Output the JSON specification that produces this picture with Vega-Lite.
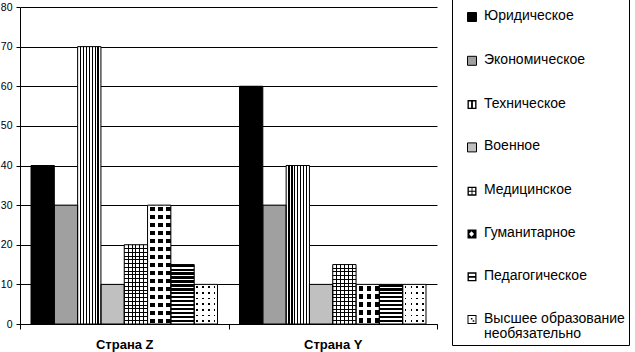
{
"$schema": "https://vega.github.io/schema/vega-lite/v6.json",
"width": 417,
"height": 317,
"autosize": {"type": "none"},
"padding": {"left": 20, "top": 7, "right": 198, "bottom": 28},
"config": {"view": {"stroke": null}, "font": "Liberation Sans"},
"data": {"values": [
{"country": "Страна Z", "cat": "Юридическое", "value": 40},
{"country": "Страна Z", "cat": "Экономическое", "value": 30},
{"country": "Страна Z", "cat": "Техническое", "value": 70},
{"country": "Страна Z", "cat": "Военное", "value": 10},
{"country": "Страна Z", "cat": "Медицинское", "value": 20},
{"country": "Страна Z", "cat": "Гуманитарное", "value": 30},
{"country": "Страна Z", "cat": "Педагогическое", "value": 15},
{"country": "Страна Z", "cat": "Высшее образование необязательно", "value": 10},
{"country": "Страна Y", "cat": "Юридическое", "value": 60},
{"country": "Страна Y", "cat": "Экономическое", "value": 30},
{"country": "Страна Y", "cat": "Техническое", "value": 40},
{"country": "Страна Y", "cat": "Военное", "value": 10},
{"country": "Страна Y", "cat": "Медицинское", "value": 15},
{"country": "Страна Y", "cat": "Гуманитарное", "value": 10},
{"country": "Страна Y", "cat": "Педагогическое", "value": 10},
{"country": "Страна Y", "cat": "Высшее образование необязательно", "value": 10}
]},
"encoding": {
"x": {"field": "country", "type": "nominal", "sort": ["Страна Z", "Страна Y"], "scale": {"paddingInner": 0, "paddingOuter": 0},
 "axis": {"title": null, "labelAngle": 0, "labelFontSize": 13, "labelFontWeight": "bold", "labelColor": "black", "labelFont": "Liberation Sans", "tickSize": 5, "tickColor": "black", "domainColor": "black", "labelPadding": 9, "tickBand": "extent", "grid": false}},
"xOffset": {"field": "cat", "type": "nominal", "sort": ["Юридическое", "Экономическое", "Техническое", "Военное", "Медицинское", "Гуманитарное", "Педагогическое", "Высшее образование необязательно"], "scale": {"paddingInner": 0, "paddingOuter": 0.472}},
"y": {"field": "value", "type": "quantitative", "scale": {"domain": [0, 80], "nice": false},
 "axis": {"title": null, "values": [0, 10, 20, 30, 40, 50, 60, 70, 80], "grid": true, "gridColor": "black", "gridOpacity": 1, "domainColor": "black", "tickColor": "black", "tickSize": 4, "labelPadding": 4, "labelFontSize": 10.5, "labelColor": "black", "labelFont": "Liberation Sans"}}
},
"layer": [
{"mark": {"type": "bar", "strokeWidth": 0},
 "encoding": {"fill": {"field": "cat", "type": "nominal",
  "scale": {"domain": ["Юридическое", "Экономическое", "Техническое", "Военное", "Медицинское", "Гуманитарное", "Педагогическое", "Высшее образование необязательно"], "range": ["black", "#a0a0a0", "black", "#c0c0c0", "black", "black", "black", "black"]},
  "legend": {"orient": "none", "legendX": 432, "legendY": -10, "direction": "vertical",
   "title": " ", "titleFontSize": 9, "titlePadding": 0,
   "strokeColor": "black", "padding": 4,
   "symbolType": "square", "symbolSize": 81, "symbolStrokeColor": "black", "symbolStrokeWidth": 1, "symbolOffset": 9,
   "labelFont": "Liberation Sans", "labelFontSize": 14, "labelColor": "black", "labelOffset": 5, "labelLimit": 300, "labelBaseline": "top",
   "rowPadding": 28.8,
   "labelExpr": "datum.label == 'Высшее образование необязательно' ? ['Высшее образование', 'необязательно'] : datum.label",
   "encode": {
    "symbols": {"update": {
     "shape": {"signal": "datum.value === 'Техническое' ? 'M-1,-1L1,-1L1,1L-1,1Z M-0.7,-0.7L-0.7,0.7L-0.2,0.7L-0.2,-0.7Z M0.2,-0.7L0.2,0.7L0.7,0.7L0.7,-0.7Z' : datum.value === 'Медицинское' ? 'M-1,-1L1,-1L1,1L-1,1Z M-0.7,-0.7L-0.7,-0.1L-0.1,-0.1L-0.1,-0.7Z M0.1,-0.7L0.1,-0.1L0.7,-0.1L0.7,-0.7Z M-0.7,0.1L-0.7,0.7L-0.1,0.7L-0.1,0.1Z M0.1,0.1L0.1,0.7L0.7,0.7L0.7,0.1Z' : datum.value === 'Гуманитарное' ? 'M-1,-1L1,-1L1,1L-1,1Z M-0.65,0L-0.1,0.6L0.45,0L-0.1,-0.6Z' : datum.value === 'Педагогическое' ? 'M-1,-1L1,-1L1,1L-1,1Z M-0.7,-0.7L-0.7,-0.2L0.7,-0.2L0.7,-0.7Z M-0.7,0.2L-0.7,0.7L0.7,0.7L0.7,0.2Z' : datum.value === 'Высшее образование необязательно' ? 'M-1,-1L1,-1L1,1L-1,1Z M-0.78,-0.78L-0.78,0.78L0.78,0.78L0.78,-0.78Z M-0.25,-0.35L0.1,-0.35L0.1,0L-0.25,0Z M0.15,0.15L0.5,0.15L0.5,0.5L0.15,0.5Z' : 'square'"},
     "stroke": {"value": "black"},
     "strokeWidth": {"signal": "indexof(['Техническое','Медицинское','Гуманитарное','Педагогическое','Высшее образование необязательно'], datum.value) >= 0 ? 0 : 1"}
    }},
    "labels": {"update": {"dy": {"value": -8}, "lineHeight": {"value": 15}}}
   }
  }}}},
{"mark": {"type": "bar", "strokeWidth": 0},
 "encoding": {"fill": {"condition": [
  {"test": "datum.cat === 'Техническое'", "value": {"gradient": "linear", "x1": 0, "y1": 0, "x2": 1, "y2": 0, "stops": [
   {"offset": 0, "color": "white"},
   {"offset": 0.099, "color": "white"}, {"offset": 0.099, "color": "black"}, {"offset": 0.151, "color": "black"}, {"offset": 0.151, "color": "white"},
   {"offset": 0.224, "color": "white"}, {"offset": 0.224, "color": "black"}, {"offset": 0.276, "color": "black"}, {"offset": 0.276, "color": "white"},
   {"offset": 0.349, "color": "white"}, {"offset": 0.349, "color": "black"}, {"offset": 0.401, "color": "black"}, {"offset": 0.401, "color": "white"},
   {"offset": 0.474, "color": "white"}, {"offset": 0.474, "color": "black"}, {"offset": 0.526, "color": "black"}, {"offset": 0.526, "color": "white"},
   {"offset": 0.599, "color": "white"}, {"offset": 0.599, "color": "black"}, {"offset": 0.651, "color": "black"}, {"offset": 0.651, "color": "white"},
   {"offset": 0.724, "color": "white"}, {"offset": 0.724, "color": "black"}, {"offset": 0.776, "color": "black"}, {"offset": 0.776, "color": "white"},
   {"offset": 0.849, "color": "white"}, {"offset": 0.849, "color": "black"}, {"offset": 0.901, "color": "black"}, {"offset": 0.901, "color": "white"},
   {"offset": 1, "color": "white"}]}},
  {"test": "datum.cat === 'Медицинское'", "value": {"gradient": "linear", "x1": 0, "y1": 0, "x2": 1, "y2": 0, "stops": [
   {"offset": 0, "color": "white"},
   {"offset": 0.145, "color": "white"}, {"offset": 0.145, "color": "black"}, {"offset": 0.188, "color": "black"}, {"offset": 0.188, "color": "white"},
   {"offset": 0.312, "color": "white"}, {"offset": 0.312, "color": "black"}, {"offset": 0.355, "color": "black"}, {"offset": 0.355, "color": "white"},
   {"offset": 0.479, "color": "white"}, {"offset": 0.479, "color": "black"}, {"offset": 0.521, "color": "black"}, {"offset": 0.521, "color": "white"},
   {"offset": 0.645, "color": "white"}, {"offset": 0.645, "color": "black"}, {"offset": 0.688, "color": "black"}, {"offset": 0.688, "color": "white"},
   {"offset": 0.812, "color": "white"}, {"offset": 0.812, "color": "black"}, {"offset": 0.855, "color": "black"}, {"offset": 0.855, "color": "white"},
   {"offset": 1, "color": "white"}]}},
  {"test": "datum.cat === 'Педагогическое'", "value": "white"},
  {"test": "datum.cat === 'Гуманитарное'", "value": {"gradient": "linear", "x1": 0, "y1": 0, "x2": 1, "y2": 0, "stops": [
   {"offset": 0, "color": "white"},
   {"offset": 0.121, "color": "white"}, {"offset": 0.121, "color": "transparent"}, {"offset": 0.309, "color": "transparent"}, {"offset": 0.309, "color": "white"},
   {"offset": 0.464, "color": "white"}, {"offset": 0.464, "color": "transparent"}, {"offset": 0.652, "color": "transparent"}, {"offset": 0.652, "color": "white"},
   {"offset": 0.807, "color": "white"}, {"offset": 0.807, "color": "transparent"}, {"offset": 0.995, "color": "transparent"}, {"offset": 0.995, "color": "white"},
   {"offset": 1, "color": "white"}]}},
  {"test": "datum.cat === 'Высшее образование необязательно'", "value": {"gradient": "linear", "x1": 0, "y1": 0, "x2": 1, "y2": 0, "stops": [
   {"offset": 0, "color": "white"},
   {"offset": 0.0885, "color": "white"}, {"offset": 0.0885, "color": "transparent"}, {"offset": 0.1615, "color": "transparent"}, {"offset": 0.1615, "color": "white"},
   {"offset": 0.3385, "color": "white"}, {"offset": 0.3385, "color": "transparent"}, {"offset": 0.4115, "color": "transparent"}, {"offset": 0.4115, "color": "white"},
   {"offset": 0.5885, "color": "white"}, {"offset": 0.5885, "color": "transparent"}, {"offset": 0.6615, "color": "transparent"}, {"offset": 0.6615, "color": "white"},
   {"offset": 0.8385, "color": "white"}, {"offset": 0.8385, "color": "transparent"}, {"offset": 0.9115, "color": "transparent"}, {"offset": 0.9115, "color": "white"},
   {"offset": 1, "color": "white"}]}}
  ], "value": "transparent"}}},
{"mark": {"type": "bar", "strokeWidth": 0},
 "encoding": {"fill": {"condition": [
  {"test": "datum.cat === 'Медицинское' && datum.country === 'Страна Z'", "value": {"gradient": "linear", "x1": 0, "y1": 0, "x2": 0, "y2": 1, "stops": [
   {"offset": 0, "color": "transparent"},
   {"offset": 0.0413, "color": "transparent"}, {"offset": 0.0413, "color": "black"}, {"offset": 0.0539, "color": "black"}, {"offset": 0.0539, "color": "transparent"},
   {"offset": 0.0889, "color": "transparent"}, {"offset": 0.0889, "color": "black"}, {"offset": 0.1015, "color": "black"}, {"offset": 0.1015, "color": "transparent"},
   {"offset": 0.1366, "color": "transparent"}, {"offset": 0.1366, "color": "black"}, {"offset": 0.1492, "color": "black"}, {"offset": 0.1492, "color": "transparent"},
   {"offset": 0.1842, "color": "transparent"}, {"offset": 0.1842, "color": "black"}, {"offset": 0.1968, "color": "black"}, {"offset": 0.1968, "color": "transparent"},
   {"offset": 0.2318, "color": "transparent"}, {"offset": 0.2318, "color": "black"}, {"offset": 0.2444, "color": "black"}, {"offset": 0.2444, "color": "transparent"},
   {"offset": 0.2794, "color": "transparent"}, {"offset": 0.2794, "color": "black"}, {"offset": 0.2920, "color": "black"}, {"offset": 0.2920, "color": "transparent"},
   {"offset": 0.3270, "color": "transparent"}, {"offset": 0.3270, "color": "black"}, {"offset": 0.3396, "color": "black"}, {"offset": 0.3396, "color": "transparent"},
   {"offset": 0.3747, "color": "transparent"}, {"offset": 0.3747, "color": "black"}, {"offset": 0.3873, "color": "black"}, {"offset": 0.3873, "color": "transparent"},
   {"offset": 0.4223, "color": "transparent"}, {"offset": 0.4223, "color": "black"}, {"offset": 0.4349, "color": "black"}, {"offset": 0.4349, "color": "transparent"},
   {"offset": 0.4699, "color": "transparent"}, {"offset": 0.4699, "color": "black"}, {"offset": 0.4825, "color": "black"}, {"offset": 0.4825, "color": "transparent"},
   {"offset": 0.5175, "color": "transparent"}, {"offset": 0.5175, "color": "black"}, {"offset": 0.5301, "color": "black"}, {"offset": 0.5301, "color": "transparent"},
   {"offset": 0.5651, "color": "transparent"}, {"offset": 0.5651, "color": "black"}, {"offset": 0.5777, "color": "black"}, {"offset": 0.5777, "color": "transparent"},
   {"offset": 0.6127, "color": "transparent"}, {"offset": 0.6127, "color": "black"}, {"offset": 0.6253, "color": "black"}, {"offset": 0.6253, "color": "transparent"},
   {"offset": 0.6604, "color": "transparent"}, {"offset": 0.6604, "color": "black"}, {"offset": 0.6730, "color": "black"}, {"offset": 0.6730, "color": "transparent"},
   {"offset": 0.7080, "color": "transparent"}, {"offset": 0.7080, "color": "black"}, {"offset": 0.7206, "color": "black"}, {"offset": 0.7206, "color": "transparent"},
   {"offset": 0.7556, "color": "transparent"}, {"offset": 0.7556, "color": "black"}, {"offset": 0.7682, "color": "black"}, {"offset": 0.7682, "color": "transparent"},
   {"offset": 0.8032, "color": "transparent"}, {"offset": 0.8032, "color": "black"}, {"offset": 0.8158, "color": "black"}, {"offset": 0.8158, "color": "transparent"},
   {"offset": 0.8508, "color": "transparent"}, {"offset": 0.8508, "color": "black"}, {"offset": 0.8634, "color": "black"}, {"offset": 0.8634, "color": "transparent"},
   {"offset": 0.8985, "color": "transparent"}, {"offset": 0.8985, "color": "black"}, {"offset": 0.9111, "color": "black"}, {"offset": 0.9111, "color": "transparent"},
   {"offset": 0.9461, "color": "transparent"}, {"offset": 0.9461, "color": "black"}, {"offset": 0.9587, "color": "black"}, {"offset": 0.9587, "color": "transparent"},
   {"offset": 1, "color": "transparent"}]}},
  {"test": "datum.cat === 'Медицинское' && datum.country === 'Страна Y'", "value": {"gradient": "linear", "x1": 0, "y1": 0, "x2": 0, "y2": 1, "stops": [
   {"offset": 0, "color": "transparent"},
   {"offset": 0.0541, "color": "transparent"}, {"offset": 0.0541, "color": "black"}, {"offset": 0.0709, "color": "black"}, {"offset": 0.0709, "color": "transparent"},
   {"offset": 0.1166, "color": "transparent"}, {"offset": 0.1166, "color": "black"}, {"offset": 0.1334, "color": "black"}, {"offset": 0.1334, "color": "transparent"},
   {"offset": 0.1791, "color": "transparent"}, {"offset": 0.1791, "color": "black"}, {"offset": 0.1959, "color": "black"}, {"offset": 0.1959, "color": "transparent"},
   {"offset": 0.2416, "color": "transparent"}, {"offset": 0.2416, "color": "black"}, {"offset": 0.2584, "color": "black"}, {"offset": 0.2584, "color": "transparent"},
   {"offset": 0.3041, "color": "transparent"}, {"offset": 0.3041, "color": "black"}, {"offset": 0.3209, "color": "black"}, {"offset": 0.3209, "color": "transparent"},
   {"offset": 0.3666, "color": "transparent"}, {"offset": 0.3666, "color": "black"}, {"offset": 0.3834, "color": "black"}, {"offset": 0.3834, "color": "transparent"},
   {"offset": 0.4291, "color": "transparent"}, {"offset": 0.4291, "color": "black"}, {"offset": 0.4459, "color": "black"}, {"offset": 0.4459, "color": "transparent"},
   {"offset": 0.4916, "color": "transparent"}, {"offset": 0.4916, "color": "black"}, {"offset": 0.5084, "color": "black"}, {"offset": 0.5084, "color": "transparent"},
   {"offset": 0.5541, "color": "transparent"}, {"offset": 0.5541, "color": "black"}, {"offset": 0.5709, "color": "black"}, {"offset": 0.5709, "color": "transparent"},
   {"offset": 0.6166, "color": "transparent"}, {"offset": 0.6166, "color": "black"}, {"offset": 0.6334, "color": "black"}, {"offset": 0.6334, "color": "transparent"},
   {"offset": 0.6791, "color": "transparent"}, {"offset": 0.6791, "color": "black"}, {"offset": 0.6959, "color": "black"}, {"offset": 0.6959, "color": "transparent"},
   {"offset": 0.7416, "color": "transparent"}, {"offset": 0.7416, "color": "black"}, {"offset": 0.7584, "color": "black"}, {"offset": 0.7584, "color": "transparent"},
   {"offset": 0.8041, "color": "transparent"}, {"offset": 0.8041, "color": "black"}, {"offset": 0.8209, "color": "black"}, {"offset": 0.8209, "color": "transparent"},
   {"offset": 0.8666, "color": "transparent"}, {"offset": 0.8666, "color": "black"}, {"offset": 0.8834, "color": "black"}, {"offset": 0.8834, "color": "transparent"},
   {"offset": 0.9291, "color": "transparent"}, {"offset": 0.9291, "color": "black"}, {"offset": 0.9459, "color": "black"}, {"offset": 0.9459, "color": "transparent"},
   {"offset": 1, "color": "transparent"}]}},
  {"test": "datum.cat === 'Гуманитарное' && datum.country === 'Страна Z'", "value": {"gradient": "linear", "x1": 0, "y1": 0, "x2": 0, "y2": 1, "stops": [
   {"offset": 0, "color": "white"},
   {"offset": 0.0151, "color": "white"}, {"offset": 0.0151, "color": "transparent"}, {"offset": 0.0521, "color": "transparent"}, {"offset": 0.0521, "color": "white"},
   {"offset": 0.0824, "color": "white"}, {"offset": 0.0824, "color": "transparent"}, {"offset": 0.1194, "color": "transparent"}, {"offset": 0.1194, "color": "white"},
   {"offset": 0.1497, "color": "white"}, {"offset": 0.1497, "color": "transparent"}, {"offset": 0.1867, "color": "transparent"}, {"offset": 0.1867, "color": "white"},
   {"offset": 0.2170, "color": "white"}, {"offset": 0.2170, "color": "transparent"}, {"offset": 0.2540, "color": "transparent"}, {"offset": 0.2540, "color": "white"},
   {"offset": 0.2843, "color": "white"}, {"offset": 0.2843, "color": "transparent"}, {"offset": 0.3213, "color": "transparent"}, {"offset": 0.3213, "color": "white"},
   {"offset": 0.3516, "color": "white"}, {"offset": 0.3516, "color": "transparent"}, {"offset": 0.3886, "color": "transparent"}, {"offset": 0.3886, "color": "white"},
   {"offset": 0.4188, "color": "white"}, {"offset": 0.4188, "color": "transparent"}, {"offset": 0.4558, "color": "transparent"}, {"offset": 0.4558, "color": "white"},
   {"offset": 0.4861, "color": "white"}, {"offset": 0.4861, "color": "transparent"}, {"offset": 0.5231, "color": "transparent"}, {"offset": 0.5231, "color": "white"},
   {"offset": 0.5534, "color": "white"}, {"offset": 0.5534, "color": "transparent"}, {"offset": 0.5904, "color": "transparent"}, {"offset": 0.5904, "color": "white"},
   {"offset": 0.6207, "color": "white"}, {"offset": 0.6207, "color": "transparent"}, {"offset": 0.6577, "color": "transparent"}, {"offset": 0.6577, "color": "white"},
   {"offset": 0.6880, "color": "white"}, {"offset": 0.6880, "color": "transparent"}, {"offset": 0.7250, "color": "transparent"}, {"offset": 0.7250, "color": "white"},
   {"offset": 0.7553, "color": "white"}, {"offset": 0.7553, "color": "transparent"}, {"offset": 0.7923, "color": "transparent"}, {"offset": 0.7923, "color": "white"},
   {"offset": 0.8225, "color": "white"}, {"offset": 0.8225, "color": "transparent"}, {"offset": 0.8595, "color": "transparent"}, {"offset": 0.8595, "color": "white"},
   {"offset": 0.8898, "color": "white"}, {"offset": 0.8898, "color": "transparent"}, {"offset": 0.9268, "color": "transparent"}, {"offset": 0.9268, "color": "white"},
   {"offset": 0.9571, "color": "white"}, {"offset": 0.9571, "color": "transparent"}, {"offset": 0.9941, "color": "transparent"}, {"offset": 0.9941, "color": "white"},
   {"offset": 1, "color": "white"}]}},
  {"test": "datum.cat === 'Гуманитарное' && datum.country === 'Страна Y'", "value": {"gradient": "linear", "x1": 0, "y1": 0, "x2": 0, "y2": 1, "stops": [
   {"offset": 0, "color": "white"},
   {"offset": 0.0454, "color": "white"}, {"offset": 0.0454, "color": "transparent"}, {"offset": 0.1566, "color": "transparent"}, {"offset": 0.1566, "color": "white"},
   {"offset": 0.2474, "color": "white"}, {"offset": 0.2474, "color": "transparent"}, {"offset": 0.3586, "color": "transparent"}, {"offset": 0.3586, "color": "white"},
   {"offset": 0.4494, "color": "white"}, {"offset": 0.4494, "color": "transparent"}, {"offset": 0.5606, "color": "transparent"}, {"offset": 0.5606, "color": "white"},
   {"offset": 0.6514, "color": "white"}, {"offset": 0.6514, "color": "transparent"}, {"offset": 0.7626, "color": "transparent"}, {"offset": 0.7626, "color": "white"},
   {"offset": 0.8534, "color": "white"}, {"offset": 0.8534, "color": "transparent"}, {"offset": 0.9646, "color": "transparent"}, {"offset": 0.9646, "color": "white"},
   {"offset": 1, "color": "white"}]}},
  {"test": "datum.cat === 'Педагогическое' && datum.country === 'Страна Z'", "value": {"gradient": "linear", "x1": 0, "y1": 0, "x2": 0, "y2": 1, "stops": [
   {"offset": 0, "color": "black"}, {"offset": 0.037, "color": "black"}, {"offset": 0.037, "color": "transparent"}, {"offset": 0.067, "color": "transparent"},
   {"offset": 0.067, "color": "black"}, {"offset": 0.103, "color": "black"}, {"offset": 0.103, "color": "transparent"}, {"offset": 0.133, "color": "transparent"},
   {"offset": 0.133, "color": "black"}, {"offset": 0.17, "color": "black"}, {"offset": 0.17, "color": "transparent"}, {"offset": 0.2, "color": "transparent"},
   {"offset": 0.2, "color": "black"}, {"offset": 0.237, "color": "black"}, {"offset": 0.237, "color": "transparent"}, {"offset": 0.267, "color": "transparent"},
   {"offset": 0.267, "color": "black"}, {"offset": 0.303, "color": "black"}, {"offset": 0.303, "color": "transparent"}, {"offset": 0.333, "color": "transparent"},
   {"offset": 0.333, "color": "black"}, {"offset": 0.37, "color": "black"}, {"offset": 0.37, "color": "transparent"}, {"offset": 0.4, "color": "transparent"},
   {"offset": 0.4, "color": "black"}, {"offset": 0.437, "color": "black"}, {"offset": 0.437, "color": "transparent"}, {"offset": 0.467, "color": "transparent"},
   {"offset": 0.467, "color": "black"}, {"offset": 0.503, "color": "black"}, {"offset": 0.503, "color": "transparent"}, {"offset": 0.533, "color": "transparent"},
   {"offset": 0.533, "color": "black"}, {"offset": 0.57, "color": "black"}, {"offset": 0.57, "color": "transparent"}, {"offset": 0.6, "color": "transparent"},
   {"offset": 0.6, "color": "black"}, {"offset": 0.637, "color": "black"}, {"offset": 0.637, "color": "transparent"}, {"offset": 0.667, "color": "transparent"},
   {"offset": 0.667, "color": "black"}, {"offset": 0.703, "color": "black"}, {"offset": 0.703, "color": "transparent"}, {"offset": 0.733, "color": "transparent"},
   {"offset": 0.733, "color": "black"}, {"offset": 0.77, "color": "black"}, {"offset": 0.77, "color": "transparent"}, {"offset": 0.8, "color": "transparent"},
   {"offset": 0.8, "color": "black"}, {"offset": 0.837, "color": "black"}, {"offset": 0.837, "color": "transparent"}, {"offset": 0.867, "color": "transparent"},
   {"offset": 0.867, "color": "black"}, {"offset": 0.903, "color": "black"}, {"offset": 0.903, "color": "transparent"}, {"offset": 0.933, "color": "transparent"},
   {"offset": 0.933, "color": "black"}, {"offset": 0.97, "color": "black"}, {"offset": 0.97, "color": "transparent"}, {"offset": 1, "color": "transparent"}]}},
  {"test": "datum.cat === 'Педагогическое' && datum.country === 'Страна Y'", "value": {"gradient": "linear", "x1": 0, "y1": 0, "x2": 0, "y2": 1, "stops": [
   {"offset": 0, "color": "black"}, {"offset": 0.055, "color": "black"}, {"offset": 0.055, "color": "transparent"}, {"offset": 0.1, "color": "transparent"},
   {"offset": 0.1, "color": "black"}, {"offset": 0.155, "color": "black"}, {"offset": 0.155, "color": "transparent"}, {"offset": 0.2, "color": "transparent"},
   {"offset": 0.2, "color": "black"}, {"offset": 0.255, "color": "black"}, {"offset": 0.255, "color": "transparent"}, {"offset": 0.3, "color": "transparent"},
   {"offset": 0.3, "color": "black"}, {"offset": 0.355, "color": "black"}, {"offset": 0.355, "color": "transparent"}, {"offset": 0.4, "color": "transparent"},
   {"offset": 0.4, "color": "black"}, {"offset": 0.455, "color": "black"}, {"offset": 0.455, "color": "transparent"}, {"offset": 0.5, "color": "transparent"},
   {"offset": 0.5, "color": "black"}, {"offset": 0.555, "color": "black"}, {"offset": 0.555, "color": "transparent"}, {"offset": 0.6, "color": "transparent"},
   {"offset": 0.6, "color": "black"}, {"offset": 0.655, "color": "black"}, {"offset": 0.655, "color": "transparent"}, {"offset": 0.7, "color": "transparent"},
   {"offset": 0.7, "color": "black"}, {"offset": 0.755, "color": "black"}, {"offset": 0.755, "color": "transparent"}, {"offset": 0.8, "color": "transparent"},
   {"offset": 0.8, "color": "black"}, {"offset": 0.855, "color": "black"}, {"offset": 0.855, "color": "transparent"}, {"offset": 0.9, "color": "transparent"},
   {"offset": 0.9, "color": "black"}, {"offset": 0.955, "color": "black"}, {"offset": 0.955, "color": "transparent"}, {"offset": 1, "color": "transparent"}]}},
  {"test": "datum.cat === 'Высшее образование необязательно'", "value": {"gradient": "linear", "x1": 0, "y1": 0, "x2": 0, "y2": 1, "stops": [
   {"offset": 0, "color": "white"},
   {"offset": 0.0499, "color": "white"}, {"offset": 0.0499, "color": "transparent"}, {"offset": 0.0929, "color": "transparent"}, {"offset": 0.0929, "color": "white"},
   {"offset": 0.1928, "color": "white"}, {"offset": 0.1928, "color": "transparent"}, {"offset": 0.2358, "color": "transparent"}, {"offset": 0.2358, "color": "white"},
   {"offset": 0.3356, "color": "white"}, {"offset": 0.3356, "color": "transparent"}, {"offset": 0.3786, "color": "transparent"}, {"offset": 0.3786, "color": "white"},
   {"offset": 0.4785, "color": "white"}, {"offset": 0.4785, "color": "transparent"}, {"offset": 0.5215, "color": "transparent"}, {"offset": 0.5215, "color": "white"},
   {"offset": 0.6214, "color": "white"}, {"offset": 0.6214, "color": "transparent"}, {"offset": 0.6644, "color": "transparent"}, {"offset": 0.6644, "color": "white"},
   {"offset": 0.7642, "color": "white"}, {"offset": 0.7642, "color": "transparent"}, {"offset": 0.8072, "color": "transparent"}, {"offset": 0.8072, "color": "white"},
   {"offset": 0.9071, "color": "white"}, {"offset": 0.9071, "color": "transparent"}, {"offset": 0.9501, "color": "transparent"}, {"offset": 0.9501, "color": "white"},
   {"offset": 1, "color": "white"}]}}
  ], "value": "transparent"}}},
{"mark": {"type": "bar", "fill": "transparent", "stroke": "black", "strokeWidth": 1}}
]
}
